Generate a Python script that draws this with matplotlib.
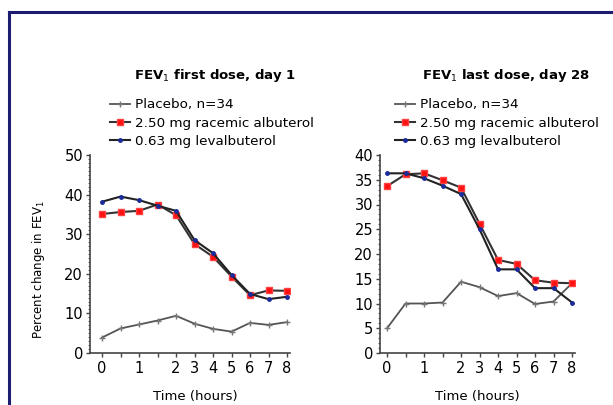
import numpy as np
import matplotlib.pyplot as plt
from matplotlib.lines import Line2D
from matplotlib.ticker import MultipleLocator

plt.rcParams['font.family'] = ['DejaVu Sans']

# hours sampled (plotted at evenly spaced positions)
hours = ['0', '0.5', '1', '1.5', '2', '3', '4', '5', '6', '7', '8']
tick_labels = ['0', '', '1', '', '2', '3', '4', '5', '6', '7', '8']

# day 1
placebo_d1 = [3.9, 6.2, 7.2, 8.2, 9.4, 7.4, 6.1, 5.4, 7.6, 7.1, 7.8]
racemic_d1 = [35.1, 35.6, 35.9, 37.5, 34.8, 27.5, 24.3, 19.3, 14.6, 15.8, 15.7]
leval_d1 = [38.2, 39.5, 38.6, 37.2, 35.9, 28.5, 25.2, 19.7, 14.9, 13.6, 14.2]

# day 28
placebo_d28 = [5.0, 10.0, 10.0, 10.2, 14.4, 13.3, 11.5, 12.1, 9.9, 10.4, 14.1]
racemic_d28 = [33.7, 36.1, 36.3, 34.9, 33.4, 26.1, 18.8, 18.0, 14.7, 14.2, 14.1]
leval_d28 = [36.3, 36.3, 35.3, 33.8, 32.1, 25.0, 16.9, 16.9, 13.1, 13.1, 10.2]

names = ['Placebo, n=34', '2.50 mg racemic albuterol', '0.63 mg levalbuterol']

W, H = 613, 405
fig = plt.figure(figsize=(W / 100, H / 100), dpi=100)

# navy frame (top and left edge)
fc = '#1c1c70'
fig.add_artist(Line2D([9 / W, 1], [1 - 12 / H, 1 - 12 / H], color=fc, lw=2.2))
fig.add_artist(Line2D([9 / W, 9 / W], [0, 1 - 12 / H], color=fc, lw=2.2))

x = np.arange(len(hours))


def panel(rect, xlim, ylim, ystep, pl, rc, lv, title, leg_x, title_x, xlab_x, ylabel=None):
    ax = fig.add_axes(rect)
    ax.plot(x, pl, color='#555555', lw=1.3, marker='+', ms=4, mec='#777777', label=names[0])
    ax.plot(x, rc, color='#333333', lw=1.5, marker='s', ms=4, mfc='#ff1010', mec='#ff4040', label=names[1])
    ax.plot(x, lv, color='#222222', lw=1.5, marker='o', ms=2.5, mfc='#1a2a9a', mec='#1a2a9a', label=names[2])
    ax.set_xlim(*xlim)
    ax.set_ylim(*ylim)
    ax.set_xticks(x)
    ax.set_xticklabels(tick_labels, fontsize=10.5)
    ax.yaxis.set_major_locator(MultipleLocator(ystep))
    ax.yaxis.set_minor_locator(MultipleLocator(1))
    ax.tick_params(axis='y', labelsize=10.5, length=3, width=1, color='#444444', pad=2)
    ax.tick_params(axis='x', length=3, width=1, color='#444444', pad=3)
    ax.tick_params(which='minor', length=1.5, width=0.8, color='#666666')
    for s in ['top', 'right']:
        ax.spines[s].set_visible(False)
    for s in ['left', 'bottom']:
        ax.spines[s].set_color('#444444')
        ax.spines[s].set_linewidth(1.2)
    ax.set_xlabel('Time (hours)', fontsize=9.5)
    ax.xaxis.set_label_coords(xlab_x, -0.185)
    if ylabel:
        ax.set_ylabel(ylabel, fontsize=8.5)
        ax.yaxis.set_label_coords(-0.215, 0.42)
    ax.legend(loc='lower left', bbox_to_anchor=(leg_x, 1.035), frameon=False,
              fontsize=9.7, handlelength=1.5, handletextpad=0.35, labelspacing=0.4,
              borderaxespad=0, borderpad=0)
    ax.text(title_x, 1.404, title, transform=ax.transAxes, fontsize=9.5,
            fontweight='bold', ha='left', va='center')
    return ax


panel([90 / W, 52 / H, 200 / W, 198 / H], (-0.65, 10.16), (0, 50), 10,
      placebo_d1, racemic_d1, leval_d1, 'FEV$_1$ first dose, day 1',
      0.1, 0.22, 0.525, ylabel='Percent change in FEV$_1$')
panel([380 / W, 52 / H, 195 / W, 198 / H], (-0.38, 10.16), (0, 40), 5,
      placebo_d28, racemic_d28, leval_d28, 'FEV$_1$ last dose, day 28',
      0.077, 0.215, 0.497)

fig.savefig('out.png', dpi=100)
